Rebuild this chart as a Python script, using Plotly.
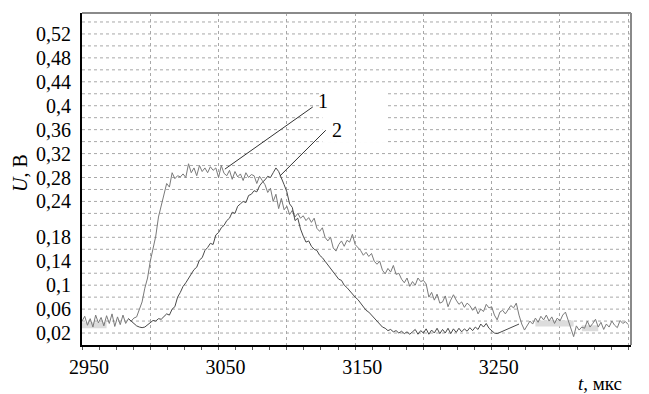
import plotly.graph_objects as go

# ---- data ----
t1 = [2950, 2952, 2954, 2956, 2958, 2960, 2962, 2964, 2966, 2968, 2970, 2972, 2974, 2976, 2978,
      2980, 2982, 2984, 2986, 2988, 2990, 2992, 2994, 2996, 2998, 3000, 3002, 3004, 3006, 3008,
      3010, 3012, 3014, 3016, 3018, 3020, 3022, 3024, 3026, 3028, 3030, 3032, 3034, 3036, 3038,
      3040, 3042, 3044, 3046, 3048, 3050, 3052, 3054, 3056, 3058, 3060, 3062, 3064, 3066, 3068,
      3070, 3072, 3074, 3076, 3078, 3080, 3082, 3084, 3086, 3088, 3090, 3092, 3094, 3096, 3098,
      3100, 3102, 3104, 3106, 3108, 3110, 3112, 3114, 3116, 3118, 3120, 3122, 3124, 3126, 3128,
      3130, 3132, 3134, 3136, 3138, 3140, 3142, 3144, 3146, 3148, 3150, 3152, 3154, 3156, 3158,
      3160, 3162, 3164, 3166, 3168, 3170, 3172, 3174, 3176, 3178, 3180, 3182, 3184, 3186, 3188,
      3190, 3192, 3194, 3196, 3198, 3200, 3202, 3204, 3206, 3208, 3210, 3212, 3214, 3216, 3218,
      3220, 3222, 3224, 3226, 3228, 3230, 3232, 3234, 3236, 3238, 3240, 3242, 3244, 3246, 3248,
      3250, 3252, 3254, 3256, 3258, 3260, 3262, 3264, 3266, 3268, 3270, 3272, 3274, 3276, 3278,
      3280, 3282, 3284, 3286, 3288, 3290, 3292, 3294, 3296, 3298, 3300, 3302, 3304, 3306, 3308,
      3310, 3312, 3314, 3316, 3318, 3320, 3322, 3324, 3326, 3328, 3330, 3332, 3334, 3336, 3338,
      3340, 3342, 3344, 3346, 3348, 3350]
u1 = [0.040, 0.048, 0.033, 0.044, 0.030, 0.050, 0.037, 0.046, 0.032, 0.049, 0.036, 0.052, 0.031, 0.047, 0.034,
      0.050, 0.036, 0.044, 0.040, 0.045, 0.047, 0.058, 0.072, 0.095, 0.112, 0.140, 0.160, 0.182, 0.214, 0.232,
      0.255, 0.270, 0.264, 0.288, 0.278, 0.283, 0.281, 0.286, 0.280, 0.303, 0.288, 0.296, 0.283, 0.300, 0.290,
      0.296, 0.288, 0.298, 0.292, 0.296, 0.280, 0.300, 0.287, 0.283, 0.292, 0.277, 0.290, 0.281, 0.286, 0.275,
      0.288, 0.280, 0.285, 0.283, 0.270, 0.282, 0.275, 0.268, 0.255, 0.262, 0.240, 0.252, 0.228, 0.245, 0.226,
      0.232, 0.218, 0.225, 0.214, 0.220, 0.212, 0.216, 0.208, 0.213, 0.205, 0.212, 0.195, 0.190, 0.196, 0.180,
      0.174, 0.180, 0.162, 0.157, 0.168, 0.174, 0.165, 0.175, 0.172, 0.185, 0.168, 0.163, 0.158, 0.150, 0.155,
      0.148, 0.153, 0.140, 0.135, 0.140, 0.125, 0.119, 0.128, 0.122, 0.133, 0.118, 0.120, 0.110, 0.104, 0.112,
      0.098, 0.106, 0.100, 0.112, 0.106, 0.108, 0.102, 0.080, 0.088, 0.075, 0.085, 0.070, 0.072, 0.082, 0.064,
      0.075, 0.084, 0.075, 0.068, 0.072, 0.063, 0.070, 0.066, 0.058, 0.064, 0.052, 0.060, 0.056, 0.068, 0.062,
      0.064, 0.050, 0.042, 0.055, 0.058, 0.052, 0.060, 0.066, 0.062, 0.070, 0.050, 0.035, 0.025, 0.033, 0.040,
      0.035, 0.045, 0.038, 0.048, 0.042, 0.050, 0.040, 0.047, 0.036, 0.045, 0.040, 0.050, 0.055, 0.040, 0.028,
      0.014, 0.032, 0.025, 0.030, 0.028, 0.040, 0.030, 0.036, 0.043, 0.030, 0.038, 0.026, 0.035, 0.030, 0.040,
      0.033, 0.029, 0.041, 0.036, 0.039, 0.034]

t2 = [2984, 2986, 2988, 2990, 2992, 2994, 2996, 2998, 3000, 3002, 3004, 3006, 3008, 3010, 3012,
      3014, 3016, 3018, 3020, 3022, 3024, 3026, 3028, 3030, 3032, 3034, 3036, 3038, 3040, 3042,
      3044, 3046, 3048, 3050, 3052, 3054, 3056, 3058, 3060, 3062, 3064, 3066, 3068, 3070, 3072,
      3074, 3076, 3078, 3080, 3082, 3084, 3086, 3088, 3090, 3092, 3094, 3096, 3098, 3100, 3102,
      3104, 3106, 3108, 3110, 3112, 3114, 3116, 3118, 3120, 3122, 3124, 3126, 3128, 3130, 3132,
      3134, 3136, 3138, 3140, 3142, 3144, 3146, 3148, 3150, 3152, 3154, 3156, 3158, 3160, 3162,
      3164, 3166, 3168, 3170, 3172, 3174, 3176, 3178, 3180, 3182, 3184, 3186, 3188, 3190, 3192,
      3194, 3196, 3198, 3200, 3202, 3204, 3206, 3208, 3210, 3212, 3214, 3216, 3218, 3220, 3222,
      3224, 3226, 3228, 3230, 3232, 3234, 3236, 3238, 3240, 3242, 3244, 3246, 3248, 3250, 3252,
      3254, 3270]
u2 = [0.044, 0.040, 0.036, 0.032, 0.030, 0.029, 0.030, 0.034, 0.038, 0.041, 0.040, 0.044, 0.043, 0.047, 0.052,
      0.050, 0.060, 0.064, 0.080, 0.088, 0.098, 0.104, 0.112, 0.118, 0.126, 0.130, 0.142, 0.146, 0.158, 0.163,
      0.170, 0.168, 0.184, 0.188, 0.196, 0.200, 0.208, 0.212, 0.222, 0.220, 0.232, 0.236, 0.240, 0.238, 0.250,
      0.252, 0.258, 0.256, 0.266, 0.272, 0.276, 0.282, 0.280, 0.288, 0.296, 0.290, 0.280, 0.268, 0.256, 0.236,
      0.230, 0.208, 0.212, 0.194, 0.182, 0.172, 0.174, 0.165, 0.160, 0.158, 0.150, 0.146, 0.140, 0.134, 0.128,
      0.122, 0.118, 0.110, 0.108, 0.100, 0.096, 0.090, 0.086, 0.080, 0.076, 0.070, 0.066, 0.058, 0.055, 0.050,
      0.046, 0.040, 0.036, 0.030, 0.028, 0.024, 0.026, 0.022, 0.024, 0.020, 0.023, 0.019, 0.022, 0.018, 0.022,
      0.026, 0.018, 0.024, 0.020, 0.027, 0.018, 0.025, 0.020, 0.028, 0.019, 0.026, 0.020, 0.028, 0.019, 0.027,
      0.021, 0.028, 0.022, 0.027, 0.023, 0.029, 0.024, 0.030, 0.026, 0.035, 0.030, 0.036, 0.028, 0.024, 0.020,
      0.019, 0.035]

# faint grey band seen near the baseline
band_t = [2950, 2968, None, 3282, 3310, None, 3316, 3328]
band_u = [0.033, 0.033, None, 0.036, 0.036, None, 0.028, 0.028]

x_tickvals = [2950, 3000, 3050, 3100, 3150, 3200, 3250, 3300, 3350]
x_ticktext = ["2950", "", "3050", "", "3150", "", "3250", "", "3350"]
y_tickvals = [0.02, 0.06, 0.1, 0.14, 0.18, 0.24, 0.28, 0.32, 0.36, 0.4, 0.44, 0.48, 0.52]
y_ticktext = ["0,02", "0,06", "0,1", "0,14", "0,18", "0,24", "0,28", "0,32", "0,36", "0,4", "0,44", "0,48", "0,52"]
y_grid = [round(0.02 * k, 2) for k in range(1, 28)]

FONT = "Times New Roman, Liberation Serif, serif"
TICKFONT = dict(family=FONT, size=20, color="black")

fig = go.Figure()
fig.add_trace(go.Scatter(x=band_t, y=band_u, mode="lines", line=dict(color="#dcdcdc", width=6),
                         hoverinfo="skip", showlegend=False))
fig.add_trace(go.Scatter(x=t1, y=u1, mode="lines", line=dict(color="#7a7a7a", width=1), showlegend=False))
fig.add_trace(go.Scatter(x=t2, y=u2, mode="lines", line=dict(color="#4a4a4a", width=1), showlegend=False))

# horizontal dashed grid every 0.02
for g in y_grid:
    fig.add_shape(type="line", xref="paper", x0=0, x1=1, yref="y", y0=g, y1=g,
                  line=dict(color="#a8a8a8", width=1, dash="dot"), layer="below")

# white patch behind the curve labels
fig.add_shape(type="rect", xref="x", yref="y", x0=3126, x1=3172, y0=0.338, y1=0.43,
              fillcolor="white", line=dict(width=0), layer="below")

# pointer lines for labels
fig.add_shape(type="line", xref="x", yref="y", x0=3119, y0=0.398, x1=3054.6, y1=0.294,
              line=dict(color="#333", width=1))
fig.add_shape(type="line", xref="x", yref="y", x0=3128.5, y0=0.359, x1=3094.9, y1=0.2825,
              line=dict(color="#333", width=1))
fig.add_annotation(x=3126.6, y=0.4075, text="1", showarrow=False, font=dict(family=FONT, size=20, color="black"))
fig.add_annotation(x=3136.4, y=0.3587, text="2", showarrow=False, font=dict(family=FONT, size=20, color="black"))

# frame: top and right grey
fig.add_shape(type="line", xref="paper", yref="paper", x0=0, x1=1, y0=1, y1=1, line=dict(color="#8a8a8a", width=2))
fig.add_shape(type="line", xref="paper", yref="paper", x0=1, x1=1, y0=0, y1=1, line=dict(color="#8a8a8a", width=2))

# axis titles
fig.add_annotation(xref="paper", yref="y", x=0, y=0.2875, xshift=-62, text="<i>U</i>, В", textangle=-90,
                   xanchor="center", yanchor="middle",
                   showarrow=False, font=dict(family=FONT, size=20, color="black"))
fig.add_annotation(xref="paper", yref="paper", x=1, y=0, xshift=-31, yshift=-38, text="<i>t</i>, мкс",
                   showarrow=False, xanchor="center", yanchor="middle", font=dict(family=FONT, size=19, color="black"))

# the page body has an 8px margin, so the figure is sized/offset to compensate
fig.update_layout(
    width=641, height=386,
    margin=dict(l=74, r=18, t=5, b=49),
    plot_bgcolor="white", paper_bgcolor="white",
    font=dict(family=FONT, size=20, color="black"),
    showlegend=False,
)
fig.update_xaxes(range=[2950, 3352], tickvals=x_tickvals, ticktext=x_ticktext, tickfont=TICKFONT,
                 showgrid=True, gridcolor="#a8a8a8", griddash="dot", gridwidth=1,
                 showline=True, linecolor="black", linewidth=2, mirror=False,
                 ticks="outside", ticklen=3, tickcolor="#555", ticklabelshift=7, ticklabelstandoff=0,
                 minor=dict(dtick=12.5, tick0=2950, ticks="outside", ticklen=3, tickcolor="#555", showgrid=False),
                 zeroline=False, automargin=False)
fig.update_yaxes(range=[0, 0.555], tickvals=y_tickvals, ticktext=y_ticktext, tickfont=TICKFONT,
                 showgrid=False, showline=True, linecolor="black", linewidth=2, mirror=False,
                 ticks="", ticklabelstandoff=5, zeroline=False, automargin=False)

fig.write_html("out.html")
